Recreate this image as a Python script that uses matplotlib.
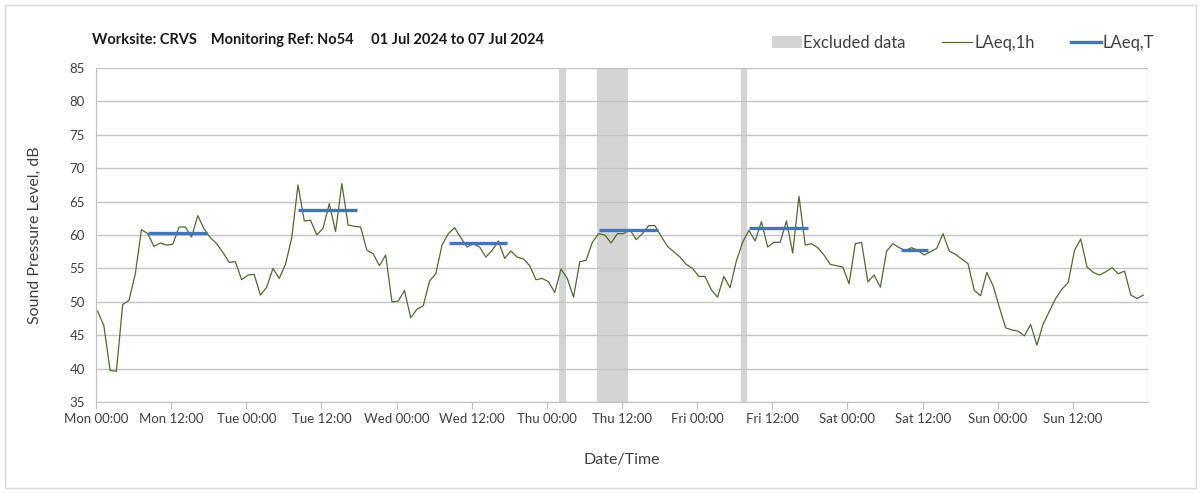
import numpy as np
import matplotlib
matplotlib.use('Agg')
import matplotlib.pyplot as plt
from matplotlib.patches import Patch, Rectangle
from matplotlib.lines import Line2D

# hourly LAeq,1h values, Mon 00:00 -> Sun 23:00
laeq_1h = [
    48.6, 46.4, 39.7, 39.6, 49.6, 50.2, 54.1, 60.8, 60.2, 58.3, 58.8, 58.5,
    58.6, 61.2, 61.2, 59.7, 62.9, 60.9, 59.6, 58.7, 57.4, 55.9, 56.0, 53.3,
    54.0, 54.1, 51.0, 52.2, 55.0, 53.5, 55.6, 59.6, 67.5, 62.1, 62.2, 60.0,
    61.0, 64.7, 60.5, 67.7, 61.5, 61.3, 61.2, 57.7, 57.2, 55.4, 57.0, 50.0,
    50.1, 51.7, 47.6, 48.9, 49.4, 53.1, 54.2, 58.5, 60.2, 61.1, 59.6, 58.2,
    58.7, 58.2, 56.7, 57.7, 59.1, 56.5, 57.6, 56.7, 56.4, 55.4, 53.3, 53.5,
    53.0, 51.4, 54.9, 53.5, 50.7, 56.0, 56.2, 58.9, 60.2, 60.0, 58.8, 60.2,
    60.2, 60.8, 59.3, 60.2, 61.4, 61.4, 59.8, 58.3, 57.5, 56.7, 55.6, 55.0,
    53.8, 53.8, 51.8, 50.7, 53.8, 52.1, 56.1, 58.9, 60.7, 59.1, 62.0, 58.2,
    58.9, 58.9, 62.1, 57.3, 65.8, 58.5, 58.7, 58.1, 57.0, 55.6, 55.4, 55.2,
    52.7, 58.7, 58.9, 53.0, 54.0, 52.2, 57.6, 58.7, 58.1, 57.7, 58.1, 57.7,
    57.0, 57.5, 58.0, 60.2, 57.6, 57.1, 56.4, 55.7, 51.7, 50.9, 54.4, 52.4,
    49.2, 46.1, 45.8, 45.6, 44.9, 46.6, 43.5, 46.7, 48.6, 50.5, 51.9, 52.9,
    57.7, 59.4, 55.2, 54.4, 54.0, 54.5, 55.1, 54.2, 54.6, 51.0, 50.5, 51.0,
]
hours = np.arange(len(laeq_1h))

# LAeq,T periods (hours from Mon 00:00)
lt_start = [8.3, 32.3, 56.3, 80.3, 104.3, 128.5]
lt_end = [17.7, 41.7, 65.7, 89.7, 113.7, 132.8]
lt_value = [60.3, 63.8, 58.8, 60.7, 61.0, 57.7]

# excluded periods (hours from Mon 00:00)
excl_start = [74, 80, 103]
excl_end = [75, 85, 104]

tick_labels = ['Mon 00:00', 'Mon 12:00', 'Tue 00:00', 'Tue 12:00', 'Wed 00:00',
               'Wed 12:00', 'Thu 00:00', 'Thu 12:00', 'Fri 00:00', 'Fri 12:00',
               'Sat 00:00', 'Sat 12:00', 'Sun 00:00', 'Sun 12:00']

plt.rcParams['font.family'] = ['Lato', 'DejaVu Sans']

fig = plt.figure(figsize=(12.03, 4.93), dpi=100)
ax = fig.add_axes([96 / 1203, 91 / 493, 1052 / 1203, 334 / 493])

txt = '#404040'
green = '#4f6b2f'
blue = '#4472c4'
band = '#d4d4d4'

for s, e in zip(excl_start, excl_end):
    ax.axvspan(s, e, color=band, lw=0, zorder=0.4)

ax.plot(hours + 0.26, laeq_1h, color=green, lw=0.9, zorder=3)
for s, e, v in zip(lt_start, lt_end, lt_value):
    ax.plot([s, e], [v, v], color=blue, lw=2.4, solid_capstyle='butt', zorder=4)

ax.set_xlim(0, 168)
ax.set_ylim(35, 85)
ax.set_yticks(np.arange(35, 86, 5))
ax.set_xticks(np.arange(0, 168, 12))
ax.set_xticklabels(tick_labels)
ax.set_xticks(np.arange(0, 169, 24), minor=True)

ax.set_axisbelow(True)
ax.grid(axis='y', color='#c4c4c4', lw=1.0)
ax.grid(axis='x', which='minor', color='#dcdcdc', lw=1.0)
ax.tick_params(axis='x', which='minor', length=0)
ax.tick_params(axis='x', which='major', length=5, color='#bfbfbf', labelsize=9.5,
               labelcolor=txt, pad=3)
ax.tick_params(axis='y', length=0, labelsize=9.5, labelcolor=txt, pad=8)

for sp in ['top', 'right']:
    ax.spines[sp].set_visible(False)
ax.spines['left'].set_color('#bfbfbf')
ax.spines['bottom'].set_color('#bfbfbf')

ax.set_ylabel('Sound Pressure Level, dB', fontsize=11.5, color=txt, labelpad=20)
ax.set_xlabel('Date/Time', fontsize=11.5, color=txt, labelpad=20)

fig.text(92 / 1203, 1 - 40 / 493,
         'Worksite: CRVS    Monitoring Ref: No54     01 Jul 2024 to 07 Jul 2024',
         fontsize=10.5, fontweight='bold', color='#1a1a1a', va='center', ha='left')

handles = [Patch(facecolor=band, edgecolor='none'),
           Line2D([0], [0], color=green, lw=0.9),
           Line2D([0], [0], color=blue, lw=2.4)]
fig.legend(handles, ['Excluded data', 'LAeq,1h', 'LAeq,T'], ncol=3, frameon=False,
           loc='center', bbox_to_anchor=(963 / 1203, 1 - 43 / 493), fontsize=12,
           labelcolor=txt, handlelength=1.8, handletextpad=0.1, columnspacing=2.2)

fig.patches.append(Rectangle((5 / 1203, 5 / 493), 1191 / 1203, 483 / 493,
                             transform=fig.transFigure, fill=False,
                             ec='#d9d9d9', lw=1.0))

fig.savefig('out.png', dpi=100)
